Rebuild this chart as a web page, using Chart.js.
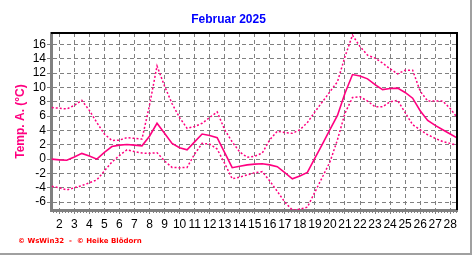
<!DOCTYPE html>
<html>
<head>
<meta charset="utf-8">
<script src="https://cdn.jsdelivr.net/npm/chart.js@4.4.1/dist/chart.umd.min.js"></script>
<style>
  html, body { margin: 0; padding: 0; background: #fff; }
</style>
</head>
<body>
<canvas id="myChart" width="472" height="255"></canvas>
<script>
// Tage (halbtägig) und Temperaturen Februar 2025
const days = [1.5, 2, 2.5, 3, 3.5, 4, 4.5, 5, 5.5, 6, 6.5, 7, 7.5, 8, 8.5, 9, 9.5, 10, 10.5,
  11, 11.5, 12, 12.5, 13, 13.5, 14, 14.5, 15, 15.5, 16, 16.5, 17, 17.5, 18, 18.5, 19, 19.5,
  20, 20.5, 21, 21.5, 22, 22.5, 23, 23.5, 24, 24.5, 25, 25.5, 26, 26.5, 27, 27.5, 28, 28.5];

const tempMax = [7.2, 7.1, 7.0, 7.5, 8.2, 6.8, 5.1, 3.5, 2.6, 2.65, 3.0, 2.9, 2.8, 7.5, 13.0, 10.2, 7.75, 5.8, 4.3,
  4.55, 5.0, 5.8, 6.6, 4.1, 2.4, 1.0, 0.25, 0.4, 0.85, 2.7, 3.9, 3.7, 3.6, 4.1, 5.1, 6.6, 8.0,
  9.4, 10.8, 14.3, 17.3, 15.7, 14.5, 14.1, 13.4, 12.6, 11.9, 12.4, 12.4, 9.5, 8.1, 8.1, 8.1, 7.05, 5.7];

const tempMean = [0, -0.1, -0.15, 0.3, 0.8, 0.45, 0, 0.95, 1.75, 1.95, 2.05, 1.95, 1.85, 3.2, 5.0, 3.6, 2.2, 1.6, 1.3,
  2.4, 3.5, 3.3, 3.0, 0.9, -1.2, -1.0, -0.8, -0.7, -0.65, -0.8, -1.05, -1.9, -2.75, -2.35, -1.85, 0.13, 2.1,
  4.1, 6.1, 9.2, 11.8, 11.6, 11.2, 10.4, 9.7, 9.86, 9.9, 9.3, 8.5, 6.75, 5.4, 4.7, 4.1, 3.5, 2.9];

const tempMin = [-3.8, -4.0, -4.3, -4.0, -3.7, -3.3, -2.9, -1.65, -0.4, 0.5, 1.3, 1.05, 0.85, 0.8, 0.9, -0.25, -1.16, -1.2, -1.16,
  0.7, 2.2, 2.1, 1.4, -0.6, -2.75, -2.5, -2.2, -1.9, -1.75, -3.05, -4.5, -6.0, -7.1, -7.0, -6.7, -4.6, -2.5,
  -0.4, 2.7, 6.4, 8.6, 8.7, 8.1, 7.3, 7.3, 8.0, 8.2, 6.5, 4.8, 4.1, 3.4, 2.9, 2.45, 2.2, 1.9];

const xTicks = [2, 3, 4, 5, 6, 7, 8, 9, 10, 11, 12, 13, 14, 15, 16, 17, 18, 19, 20, 21, 22, 23, 24, 25, 26, 27, 28];
const yTicks = [-6, -4, -2, 0, 2, 4, 6, 8, 10, 12, 14, 16];

const pink = '#ff0080';
const gridGray = '#808080';

const toPoints = vals => days.map((d, i) => ({ x: d, y: vals[i] }));

const extras = {
  id: 'extras',
  afterDraw(chart) {
    const { ctx, chartArea: a, scales } = chart;
    ctx.save();
    // Rahmen oben/rechts
    ctx.strokeStyle = '#000';
    ctx.lineWidth = 2;
    ctx.beginPath();
    ctx.moveTo(a.left, a.top);
    ctx.lineTo(a.right, a.top);
    ctx.lineTo(a.right, a.bottom);
    ctx.stroke();
    // kleine Striche an der x-Achse
    ctx.strokeStyle = gridGray;
    ctx.lineWidth = 1;
    for (let d = 1.6; d < 28.45; d += 0.2) {
      if (Math.abs(d - Math.round(d)) < 0.01) continue;
      const px = Math.round(scales.x.getPixelForValue(d)) + 0.5;
      ctx.beginPath();
      ctx.moveTo(px, a.bottom + 1);
      ctx.lineTo(px, a.bottom + 3);
      ctx.stroke();
    }
    // Rand
    ctx.fillStyle = '#a0a0a0';
    ctx.fillRect(470, 0, 2, 255);
    ctx.fillRect(0, 253, 472, 2);
    // Fußzeile
    ctx.fillStyle = '#ff0000';
    ctx.font = 'bold 7px "DejaVu Sans"';
    ctx.textBaseline = 'middle';
    ctx.fillText('\u00a9 WsWin32  -  \u00a9 Heike Bl\u00f6dorn', 18, 241);
    ctx.restore();
  }
};

new Chart(document.getElementById('myChart'), {
  type: 'line',
  data: {
    datasets: [
      { label: 'Max', data: toPoints(tempMax), borderColor: pink, borderWidth: 1.5, borderDash: [2, 2], pointRadius: 0, tension: 0 },
      { label: 'Mittel', data: toPoints(tempMean), borderColor: pink, borderWidth: 1.6, pointRadius: 0, tension: 0 },
      { label: 'Min', data: toPoints(tempMin), borderColor: pink, borderWidth: 1.5, borderDash: [2, 2], pointRadius: 0, tension: 0 }
    ]
  },
  options: {
    responsive: false,
    animation: false,
    devicePixelRatio: 1,
    layout: { padding: { left: 0, right: 15, top: 0, bottom: 0 } },
    plugins: {
      legend: { display: false },
      tooltip: { enabled: false },
      title: {
        display: true,
        text: 'Februar 2025',
        color: '#0000ff',
        font: { family: 'Liberation Sans', size: 12, weight: 'bold' },
        padding: { top: 12, bottom: 6.6 }
      }
    },
    scales: {
      x: {
        type: 'linear',
        min: 1.45,
        max: 28.45,
        afterFit: s => { s.height = 45; },
        afterBuildTicks: s => { s.ticks = xTicks.map(v => ({ value: v })); },
        grid: { color: gridGray, lineWidth: 1, drawTicks: true, tickLength: 4, tickColor: gridGray },
        border: { display: true, color: gridGray, width: 3, dash: [4, 3] },
        ticks: {
          autoSkip: false, maxRotation: 0, padding: 3, color: '#000',
          font: { family: 'Liberation Sans', size: 12 }
        }
      },
      y: {
        min: -7.1,
        max: 17.6,
        afterFit: s => { s.width = 51; },
        afterBuildTicks: s => { s.ticks = yTicks.map(v => ({ value: v })); },
        grid: { color: gridGray, lineWidth: 1, drawTicks: true, tickLength: 4, tickColor: gridGray },
        border: { display: true, color: gridGray, width: 3, dash: [4, 3] },
        ticks: {
          autoSkip: false, padding: 1, color: '#000',
          font: { family: 'Liberation Sans', size: 12 }
        },
        title: {
          display: true,
          text: 'Temp. A. (\u00b0C)',
          color: pink,
          font: { family: 'Liberation Sans', size: 12, weight: 'bold' },
          padding: { top: 13, bottom: 0 }
        }
      }
    }
  },
  plugins: [extras]
});
</script>
</body>
</html>
